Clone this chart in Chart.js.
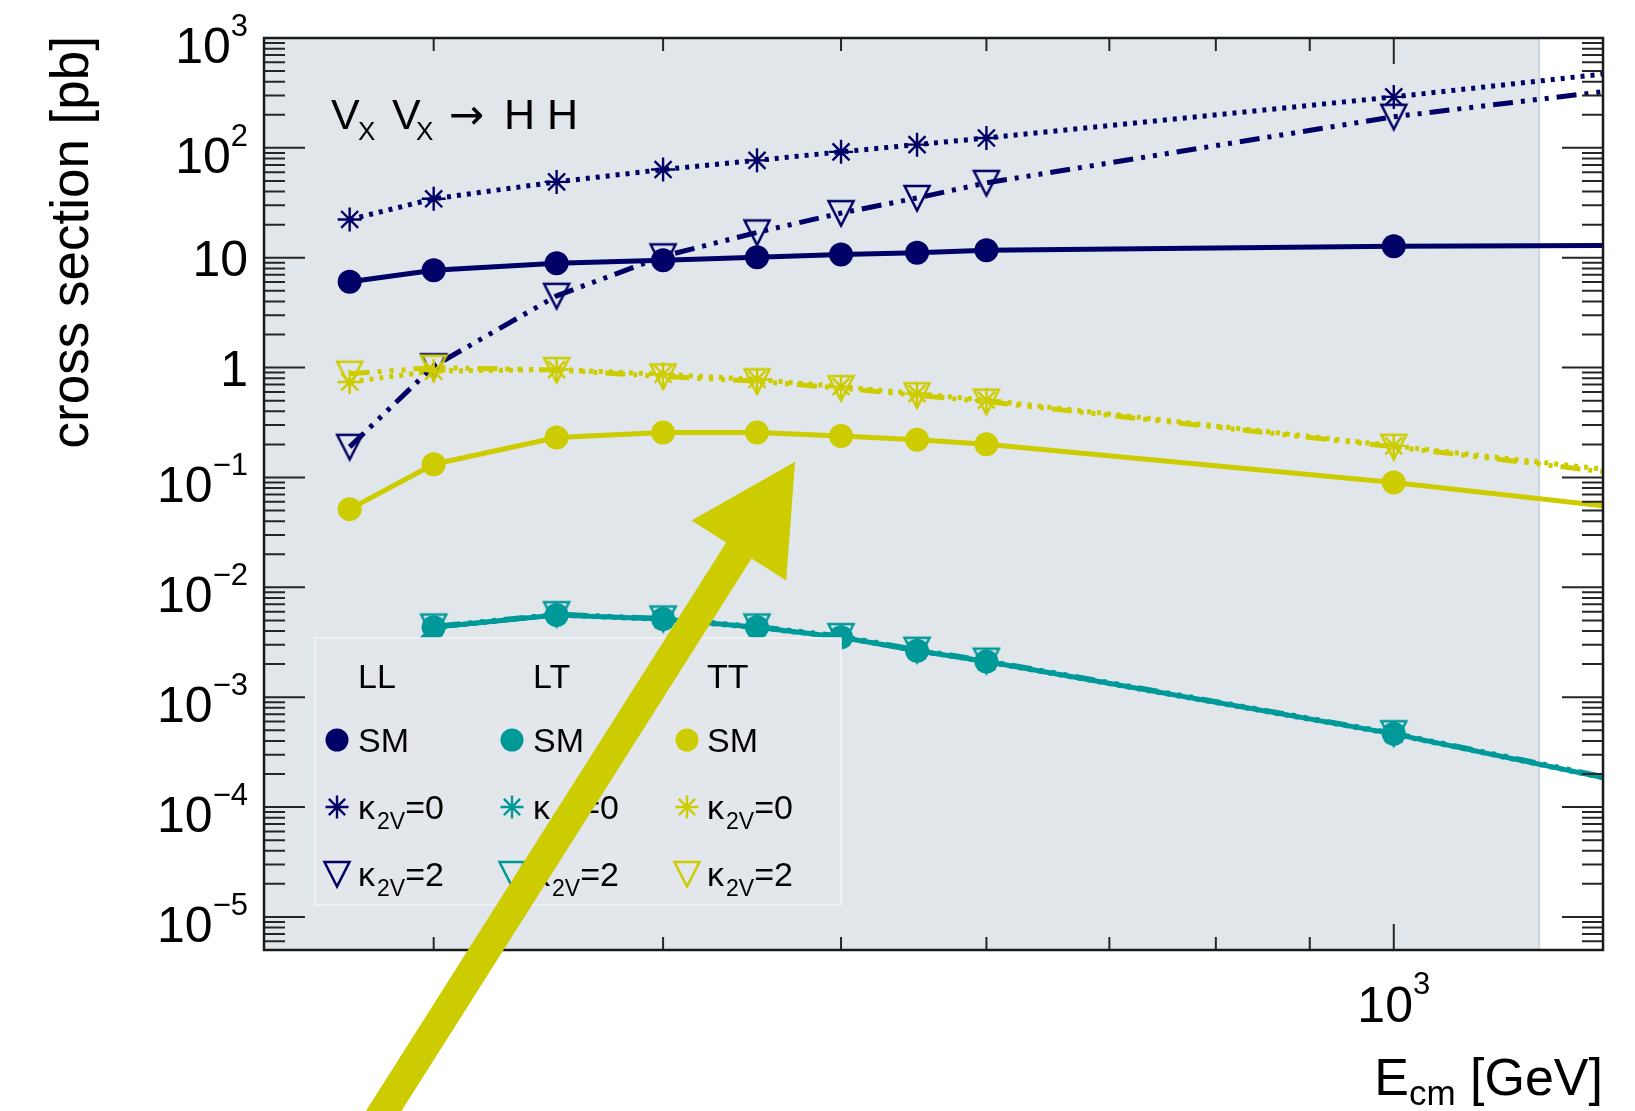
<!DOCTYPE html>
<html>
<head>
<meta charset="utf-8">
<script src="https://cdn.jsdelivr.net/npm/chart.js@4.4.1/dist/chart.umd.min.js"></script>
<style>
    html, body { margin: 0; padding: 0; background: #fff; }
</style>
</head>
<body>
<canvas id="grafica" width="1635" height="1111"></canvas>
<script>
// energias en GeV (la ultima es el borde derecho del marco)
const energias = [270, 300, 350, 400, 450, 500, 550, 600, 1000, 1300];

const llSM = [6.05, 7.7, 8.9, 9.5, 10.1, 10.7, 11.1, 11.7, 12.75, 12.9];
const llK0 = [22.3, 34.4, 49, 63.5, 77, 92, 107, 123, 291, 470];
const llK2 = [0.19, 1.03, 4.5, 10.3, 17, 25.5, 35, 48, 192, 325];

const ltSM = [0.0007, 0.00433, 0.0056, 0.00515, 0.00433, 0.00351, 0.00265, 0.00211, 0.000464, 0.000186];
const ltK0 = [0.0007, 0.0043, 0.0056, 0.0051, 0.0043, 0.0035, 0.00265, 0.0021, 0.00046, 0.000185];
const ltK2 = [0.0007, 0.0044, 0.0057, 0.0052, 0.0044, 0.0036, 0.0027, 0.00215, 0.00047, 0.00019];

const ttSM = [0.0515, 0.132, 0.231, 0.256, 0.256, 0.239, 0.22, 0.201, 0.09, 0.0552];
const ttK0 = [0.74, 0.93, 0.96, 0.87, 0.78, 0.67, 0.58, 0.505, 0.194, 0.119];
const ttK2 = [0.88, 1.0, 0.95, 0.83, 0.75, 0.65, 0.56, 0.49, 0.19, 0.113];

const xRango = [242.5, 1300];
const yRango = [5e-6, 1000];
const limiteSombra = 1200;

const xTicksMenores = [300, 400, 500, 600, 700, 800, 900];
const xTicksMayores = [1000];
const xEtiquetas = [["10", "3"]];
const yTicksMayores = [1e-5, 1e-4, 1e-3, 1e-2, 1e-1, 1, 10, 100, 1000];
const yEtiquetas = [["10", "\u22125"], ["10", "\u22124"], ["10", "\u22123"], ["10", "\u22122"], ["10", "\u22121"],
    ["1", ""], ["10", ""], ["10", "2"], ["10", "3"]];

const tituloX = ["E", "cm", " [GeV]"];
const tituloY = "cross section [pb]";
const columnasLeyenda = ["LL", "LT", "TT"];
const filasLeyenda = [
    { simbolo: "sm", texto: "SM", sub: "", fin: "" },
    { simbolo: "k0", texto: "\u03ba", sub: "2V", fin: "=0" },
    { simbolo: "k2", texto: "\u03ba", sub: "2V", fin: "=2" },
];

const flechaDesde = { x: 278, y: 1.2e-7 };
const flechaHasta = { x: 472, y: 0.139 };

const azul = "#000066";
const turquesa = "#009999";
const amarillo = "#cccc00";
const fuente = "'Liberation Sans', Arial, Helvetica, sans-serif";

function trianguloAbierto(color) {
    const c = document.createElement("canvas");
    c.width = 30;
    c.height = 30;
    const ctx = c.getContext("2d");
    ctx.strokeStyle = color;
    ctx.lineWidth = 2.5;
    ctx.lineJoin = "miter";
    ctx.beginPath();
    ctx.moveTo(2.5, 3);
    ctx.lineTo(27.5, 3);
    ctx.lineTo(15, 27.5);
    ctx.closePath();
    ctx.stroke();
    return c;
}

const triangulos = {};
triangulos[azul] = trianguloAbierto(azul);
triangulos[turquesa] = trianguloAbierto(turquesa);
triangulos[amarillo] = trianguloAbierto(amarillo);

function serie(datos, color, tipo) {
    const estilos = {
        sm: { dash: [], punto: "circle", radio: 12 },
        k0: { dash: [4, 6], punto: "star", radio: 12 },
        k2: { dash: [20, 8, 4, 8, 4, 8, 4, 8], punto: triangulos[color], radio: 12 },
    };
    const e = estilos[tipo];
    return {
        data: energias.map((x, i) => ({ x: x, y: datos[i] })),
        borderColor: color,
        backgroundColor: color,
        borderWidth: 5,
        borderDash: e.dash,
        pointStyle: e.punto,
        pointRadius: energias.map((x) => x >= xRango[1] ? 0 : e.radio),
        pointBorderWidth: tipo === "k0" ? 2.4 : 0,
        pointBackgroundColor: color,
        pointBorderColor: color,
        tension: 0,
    };
}

function marcador(ctx, tipo, color, x, y) {
    ctx.save();
    ctx.fillStyle = color;
    ctx.strokeStyle = color;
    if (tipo === "sm") {
        ctx.beginPath();
        ctx.arc(x, y, 11.5, 0, Math.PI * 2);
        ctx.fill();
    } else if (tipo === "k0") {
        ctx.lineWidth = 2.4;
        ctx.beginPath();
        for (let k = 0; k < 4; k++) {
            const a = k * Math.PI / 4;
            ctx.moveTo(x - Math.sin(a) * 11.5, y - Math.cos(a) * 11.5);
            ctx.lineTo(x + Math.sin(a) * 11.5, y + Math.cos(a) * 11.5);
        }
        ctx.stroke();
    } else {
        ctx.drawImage(triangulos[color], x - 15, y - 15);
    }
    ctx.restore();
}

const estiloRoot = {
    id: "estiloRoot",
    beforeDatasetsDraw(chart) {
        const { ctx, chartArea: a, scales: { x: xs } } = chart;
        const xs0 = xs.getPixelForValue(limiteSombra);
        ctx.save();
        ctx.fillStyle = "#e1e6ea";
        ctx.fillRect(a.left, a.top, xs0 - a.left, a.bottom - a.top);
        ctx.strokeStyle = "#cdd6dd";
        ctx.lineWidth = 2;
        ctx.beginPath();
        ctx.moveTo(xs0, a.top);
        ctx.lineTo(xs0, a.bottom);
        ctx.stroke();
        ctx.restore();
    },
    afterDatasetsDraw(chart) {
        const { ctx, chartArea: a, scales: { x: xs, y: ys } } = chart;
        ctx.save();

        // leyenda
        const caja = { left: 315, top: 638, right: 841, bottom: 905 };
        ctx.fillStyle = "#e3e7eb";
        ctx.fillRect(caja.left, caja.top, caja.right - caja.left, caja.bottom - caja.top);
        ctx.strokeStyle = "#f2f4f6";
        ctx.lineWidth = 1.5;
        ctx.strokeRect(caja.left, caja.top, caja.right - caja.left, caja.bottom - caja.top);

        const colTexto = [358, 533, 707];
        const colMarca = [337, 512, 687];
        const filasY = [740, 807, 874];
        const colores = [azul, turquesa, amarillo];
        ctx.fillStyle = "#000";
        ctx.textBaseline = "alphabetic";
        ctx.textAlign = "left";
        ctx.font = "34px " + fuente;
        columnasLeyenda.forEach((c, i) => ctx.fillText(c, colTexto[i], 688));
        colores.forEach((color, i) => {
            filasLeyenda.forEach((f, j) => {
                marcador(ctx, f.simbolo, color, colMarca[i], filasY[j]);
                ctx.fillStyle = "#000";
                let x = colTexto[i];
                const base = filasY[j] + 12;
                ctx.font = "34px " + fuente;
                ctx.fillText(f.texto, x, base);
                x += ctx.measureText(f.texto).width + 2;
                if (f.sub) {
                    ctx.font = "23px " + fuente;
                    ctx.fillText(f.sub, x, base + 10);
                    x += ctx.measureText(f.sub).width;
                    ctx.font = "34px " + fuente;
                    ctx.fillText(f.fin, x, base);
                }
            });
        });

        // ticks
        ctx.strokeStyle = "#262626";
        ctx.lineWidth = 2;
        ctx.beginPath();
        for (let d = -6; d <= 3; d++) {
            for (let m = 1; m <= 9; m++) {
                const v = m * Math.pow(10, d);
                if (v < yRango[0] * 1.01 || v > yRango[1] * 1.001) continue;
                const py = ys.getPixelForValue(v);
                const largo = m === 1 ? 41 : 21;
                ctx.moveTo(a.left, py);
                ctx.lineTo(a.left + largo, py);
                ctx.moveTo(a.right, py);
                ctx.lineTo(a.right - largo, py);
            }
        }
        xTicksMenores.concat(xTicksMayores).forEach((v) => {
            const px = xs.getPixelForValue(v);
            const largo = xTicksMayores.includes(v) ? 26 : 13;
            ctx.moveTo(px, a.bottom);
            ctx.lineTo(px, a.bottom - largo);
            ctx.moveTo(px, a.top);
            ctx.lineTo(px, a.top + largo);
        });
        ctx.stroke();

        ctx.strokeStyle = "#1a1a1a";
        ctx.lineWidth = 2.5;
        ctx.strokeRect(a.left, a.top, a.right - a.left, a.bottom - a.top);

        // etiquetas del eje y
        ctx.fillStyle = "#000";
        yTicksMayores.forEach((v, i) => {
            const [base, exp] = yEtiquetas[i];
            const py = ys.getPixelForValue(v);
            ctx.font = "50px " + fuente;
            const wBase = ctx.measureText(base).width;
            ctx.font = "31px " + fuente;
            const wExp = exp ? ctx.measureText(exp).width : 0;
            const fin = a.left - 16;
            const yb = py + (exp ? 25 : 18);
            ctx.font = "50px " + fuente;
            ctx.fillText(base, fin - wExp - wBase, yb);
            if (exp) {
                ctx.font = "31px " + fuente;
                ctx.fillText(exp, fin - wExp, yb - 27);
            }
        });

        // etiquetas del eje x
        xTicksMayores.forEach((v, i) => {
            const [base, exp] = xEtiquetas[i];
            const px = xs.getPixelForValue(v);
            ctx.font = "50px " + fuente;
            const wBase = ctx.measureText(base).width;
            ctx.font = "31px " + fuente;
            const wExp = ctx.measureText(exp).width;
            const x0 = px - (wBase + wExp) / 2;
            ctx.font = "50px " + fuente;
            ctx.fillText(base, x0, 1022);
            ctx.font = "31px " + fuente;
            ctx.fillText(exp, x0 + wBase, 994);
        });

        // titulo eje x
        ctx.font = "52px " + fuente;
        const wE = ctx.measureText(tituloX[0]).width;
        const wResto = ctx.measureText(tituloX[2]).width;
        ctx.font = "35px " + fuente;
        const wSub = ctx.measureText(tituloX[1]).width;
        let xt = a.right - wResto - wSub - wE;
        ctx.font = "52px " + fuente;
        ctx.fillText(tituloX[0], xt, 1095);
        ctx.font = "35px " + fuente;
        ctx.fillText(tituloX[1], xt + wE, 1105);
        ctx.font = "52px " + fuente;
        ctx.fillText(tituloX[2], xt + wE + wSub, 1095);

        // titulo eje y
        ctx.save();
        ctx.translate(88, a.top - 2);
        ctx.rotate(-Math.PI / 2);
        ctx.textAlign = "right";
        ctx.font = "53px " + fuente;
        ctx.fillText(tituloY, 0, 0);
        ctx.restore();

        // proceso
        ctx.font = "43px " + fuente;
        ctx.fillText("V", 331, 129);
        ctx.fillText("V", 392, 129);
        ctx.fillText("H H", 504, 129);
        ctx.font = "42px 'DejaVu Sans', sans-serif";
        ctx.fillText("\u2192", 449, 129);
        ctx.font = "26px " + fuente;
        ctx.fillText("X", 358, 140);
        ctx.fillText("X", 416, 140);

        ctx.restore();
    },
    afterDraw(chart) {
        const { ctx, scales: { x: xs, y: ys } } = chart;
        const p0 = { x: xs.getPixelForValue(flechaDesde.x), y: ys.getPixelForValue(flechaDesde.y) };
        const p1 = { x: xs.getPixelForValue(flechaHasta.x), y: ys.getPixelForValue(flechaHasta.y) };
        const ang = Math.atan2(p1.y - p0.y, p1.x - p0.x);
        const largo = Math.hypot(p1.x - p0.x, p1.y - p0.y);
        const cabeza = 105, anchoCabeza = 56, anchoCuerpo = 15;
        ctx.save();
        ctx.translate(p0.x, p0.y);
        ctx.rotate(ang);
        ctx.fillStyle = amarillo;
        ctx.beginPath();
        ctx.moveTo(0, -anchoCuerpo);
        ctx.lineTo(largo - cabeza, -anchoCuerpo);
        ctx.lineTo(largo - cabeza, -anchoCabeza);
        ctx.lineTo(largo, 0);
        ctx.lineTo(largo - cabeza, anchoCabeza);
        ctx.lineTo(largo - cabeza, anchoCuerpo);
        ctx.lineTo(0, anchoCuerpo);
        ctx.closePath();
        ctx.fill();
        ctx.restore();
    },
};

window.onload = () => {
    const ctx = document.getElementById("grafica").getContext("2d");
    new Chart(ctx, {
        type: "line",
        data: {
            datasets: [
                serie(ttSM, amarillo, "sm"),
                serie(ttK0, amarillo, "k0"),
                serie(ttK2, amarillo, "k2"),
                serie(ltSM, turquesa, "sm"),
                serie(ltK0, turquesa, "k0"),
                serie(ltK2, turquesa, "k2"),
                serie(llSM, azul, "sm"),
                serie(llK0, azul, "k0"),
                serie(llK2, azul, "k2"),
            ]
        },
        options: {
            responsive: false,
            animation: false,
            events: [],
            devicePixelRatio: 1,
            layout: { padding: { left: 264, right: 32, top: 38, bottom: 161 } },
            plugins: { legend: { display: false }, tooltip: { enabled: false } },
            scales: {
                x: { type: "logarithmic", min: xRango[0], max: xRango[1], display: false },
                y: { type: "logarithmic", min: yRango[0], max: yRango[1], display: false },
            }
        },
        plugins: [estiloRoot]
    });
};
</script>
</body>
</html>
